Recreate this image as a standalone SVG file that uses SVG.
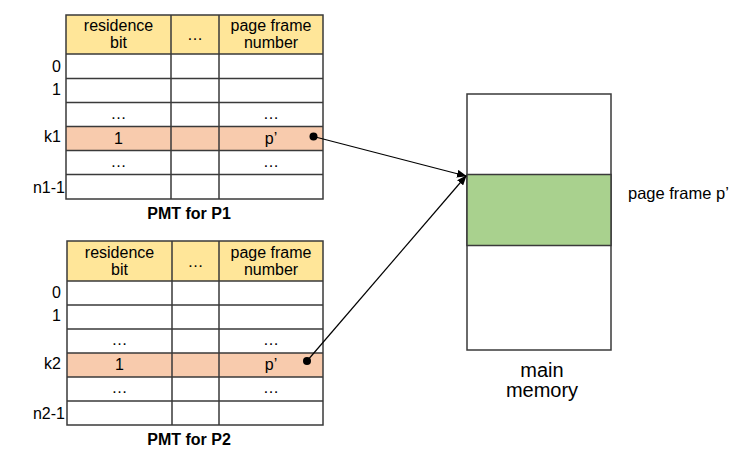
<svg xmlns="http://www.w3.org/2000/svg" width="748" height="465" viewBox="0 0 748 465">
<style>
text{font-family:"Liberation Sans","Open Sans",Arial,sans-serif;fill:#000}
.t{font-size:16px}
.c{text-anchor:middle}
.r{text-anchor:end}
.b{font-weight:bold;font-size:16px}
.cell{stroke:#3a3a3a;stroke-width:1.5}
.hd{fill:#FFE699}
.wh{fill:#fff}
.hl{fill:#F8CBAD}
.grid{stroke:#3a3a3a;stroke-width:1.5;fill:none}
.con{stroke:#000;stroke-width:1.2;fill:none}
.mm{font-size:20px}
.pf{font-size:16.5px}
</style>
<defs>
<marker id="ah" markerWidth="10" markerHeight="8" refX="9" refY="4" orient="auto" markerUnits="userSpaceOnUse">
<path d="M0,0 L10,4 L0,8 z" fill="#000"/>
</marker>
</defs>

<g id="pmt1">
<rect class="hd" x="66" y="15" width="257" height="39"/>
<rect class="wh" x="66" y="54" width="257" height="72.5"/>
<rect class="hl" x="66" y="126.5" width="257" height="24"/>
<rect class="wh" x="66" y="150.5" width="257" height="48.5"/>
<rect class="grid" x="66" y="15" width="257" height="184"/>
<path class="grid" d="M66,54H323M66,78.5H323M66,102.5H323M66,126.5H323M66,150.5H323M66,174.5H323M171,15V199M219,15V199"/>
<text class="t c" x="118.5" y="31">residence</text>
<text class="t c" x="118.5" y="48">bit</text>
<text class="t c" x="195" y="40">…</text>
<text class="t c" x="271" y="31">page frame</text>
<text class="t c" x="271" y="48">number</text>
<text class="t r" x="61" y="72">0</text>
<text class="t r" x="61" y="95">1</text>
<text class="t r" x="61" y="142">k1</text>
<text class="t r" x="65" y="193">n1-1</text>
<text class="t c" x="118.5" y="119">…</text>
<text class="t c" x="271" y="119">…</text>
<text class="t c" x="118.5" y="144">1</text>
<text class="t c" x="271" y="144">p’</text>
<text class="t c" x="118.5" y="167">…</text>
<text class="t c" x="271" y="167">…</text>
<text class="b c" x="189" y="219">PMT for P1</text>
</g>

<g id="pmt2">
<rect class="hd" x="67" y="241" width="256" height="40"/>
<rect class="wh" x="67" y="281" width="256" height="72"/>
<rect class="hl" x="67" y="353" width="256" height="24"/>
<rect class="wh" x="67" y="377" width="256" height="48"/>
<rect class="grid" x="67" y="241" width="256" height="184"/>
<path class="grid" d="M67,281H323M67,305H323M67,329H323M67,353H323M67,377H323M67,401H323M172,241V425M219,241V425"/>
<text class="t c" x="119.5" y="258">residence</text>
<text class="t c" x="119.5" y="275">bit</text>
<text class="t c" x="195.5" y="267">…</text>
<text class="t c" x="271" y="258">page frame</text>
<text class="t c" x="271" y="275">number</text>
<text class="t r" x="61" y="298">0</text>
<text class="t r" x="61" y="321">1</text>
<text class="t r" x="61" y="369">k2</text>
<text class="t r" x="65" y="419">n2-1</text>
<text class="t c" x="119.5" y="345">…</text>
<text class="t c" x="271" y="345">…</text>
<text class="t c" x="119.5" y="370">1</text>
<text class="t c" x="271" y="370">p’</text>
<text class="t c" x="119.5" y="393">…</text>
<text class="t c" x="271" y="393">…</text>
<text class="b c" x="189" y="445">PMT for P2</text>
</g>

<g id="memory">
<rect x="467" y="94" width="144" height="256" fill="#fff" class="cell"/>
<rect x="467" y="174.5" width="144" height="71" fill="#A9D18E" class="cell"/>
<text class="mm c" x="542" y="377">main</text>
<text class="mm c" x="542" y="397">memory</text>
<text class="pf" x="628" y="199">page frame p’</text>
</g>

<g id="connectors">
<circle cx="313.5" cy="136.5" r="4" fill="#000"/>
<line class="con" x1="313.5" y1="136.5" x2="466" y2="176" marker-end="url(#ah)"/>
<circle cx="307" cy="361" r="4" fill="#000"/>
<line class="con" x1="307" y1="361" x2="466" y2="176" marker-end="url(#ah)"/>
</g>
</svg>
